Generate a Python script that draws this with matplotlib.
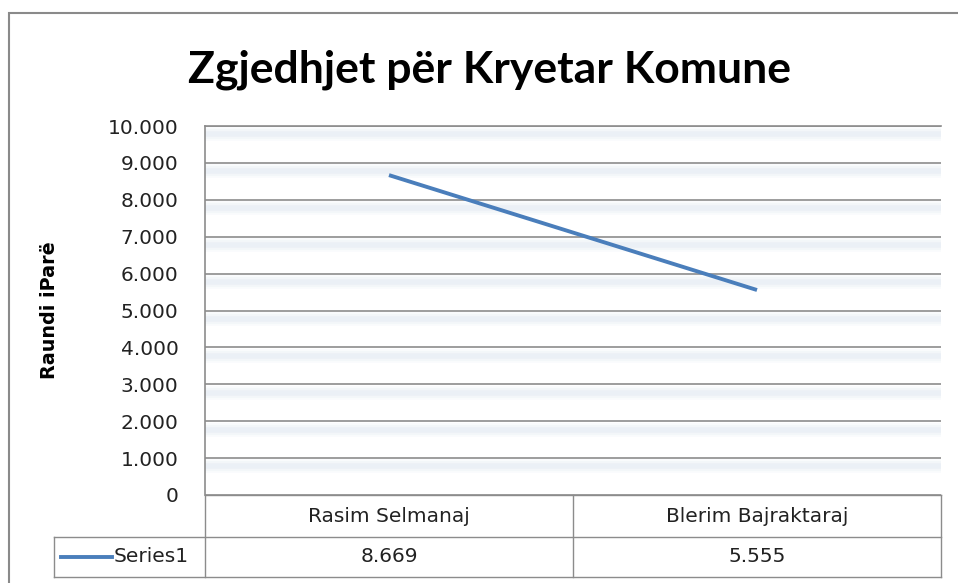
import numpy as np
import matplotlib.pyplot as plt
import matplotlib.ticker as ticker
import matplotlib.patheffects as pe
from matplotlib.patches import Rectangle

# ── data ───────────────────────────────────────────────────────────────────────
candidates = ["Rasim Selmanaj", "Blerim Bajraktaraj"]
votes = [8669, 5555]
series_name = "Series1"
title = "Zgjedhjet për Kryetar Komune"
ylabel = "Raundi iParë"
yticks = np.arange(0, 10001, 1000)

LINE = "#4a7ebb"
GRID = "#8c8c8c"
TXT = "#222222"
plt.rcParams["font.family"] = ["DejaVu Sans"]


def fmt(v, _=None):
    # thousands separator is a dot, as in the Albanian locale
    return "0" if v == 0 else f"{int(v):,}".replace(",", ".")


W, H = 958, 583
fig = plt.figure(figsize=(W / 100, H / 100), dpi=100)

# outer chart border (runs off the right/bottom edge in the original)
fig.patches.append(Rectangle((9 / W, -0.02), 1.0, 1 - 13 / H + 0.02,
                             transform=fig.transFigure, fill=False,
                             edgecolor="#8a8a8a", linewidth=1.5))

L, R, T, B = 205, 941, 126, 495
ax = fig.add_axes([L / W, 1 - B / H, (R - L) / W, (B - T) / H])

x = np.arange(len(candidates))
ax.plot(x, votes, color=LINE, linewidth=2.8, solid_capstyle="butt", zorder=5)

ax.set_xlim(-0.5, len(candidates) - 0.5)
ax.set_ylim(0, 10000)
ax.set_yticks(yticks)
ax.yaxis.set_major_formatter(ticker.FuncFormatter(fmt))
ax.set_xticks([])
ax.tick_params(axis="y", length=0, labelsize=14.5, pad=19, colors=TXT)

for s in ["right", "bottom"]:
    ax.spines[s].set_visible(False)
for s in ["left", "top"]:
    ax.spines[s].set_color(GRID)
    ax.spines[s].set_linewidth(1.2)

# gridlines with the soft bluish glow underneath
ax.grid(axis="y", color=GRID, linewidth=1.2)
soft = [pe.SimpleLineShadow(offset=(0, -6), shadow_color="#b8c9e2",
                            alpha=a, linewidth=w)
        for w, a in [(10, 0.07), (7, 0.09), (4, 0.12)]]
for gl in ax.get_ygridlines():
    gl.set_path_effects(soft + [pe.Normal()])
ax.set_axisbelow(True)

ax.set_ylabel(ylabel, fontsize=13.8, fontweight="bold", color="black")
ax.yaxis.set_label_coords(-(L - 59) / (R - L), 0.5)

fig.text(490 / W, 1 - 70 / H, title, ha="center", va="center",
         fontsize=32, fontweight="bold", family=["Lato", "DejaVu Sans"])

# ── data table under the plot ────────────────────────────────────────────────
tr = ax.get_xaxis_transform()
row1 = -(537 - B) / (B - T)
row2 = -(577 - B) / (B - T)
left_x = -0.5 - (L - 54) / (R - L) * len(candidates)
kw = dict(color=GRID, linewidth=1.0, transform=tr, clip_on=False)

ax.plot([-0.5, len(candidates) - 0.5], [0, 0], **kw)
ax.plot([left_x, len(candidates) - 0.5], [row1, row1], **kw)
ax.plot([left_x, len(candidates) - 0.5], [row2, row2], **kw)
ax.plot([left_x, left_x], [row1, row2], **kw)
ax.plot([-0.5, -0.5], [0, row2], **kw)
for i in range(len(candidates)):
    ax.plot([i + 0.5, i + 0.5], [0, row2], **kw)

for i, (name, v) in enumerate(zip(candidates, votes)):
    ax.text(i, row1 / 2, name, transform=tr, ha="center", va="center",
            fontsize=14.5, color=TXT)
    ax.text(i, (row1 + row2) / 2, fmt(v), transform=tr, ha="center",
            va="center", fontsize=14.5, color=TXT)

# legend key inside the first cell
ax.plot([left_x + 0.02, left_x + 0.158], [(row1 + row2) / 2] * 2,
        color=LINE, linewidth=2.8, transform=tr, clip_on=False)
ax.text(left_x + 0.163, (row1 + row2) / 2, series_name, transform=tr,
        ha="left", va="center", fontsize=14.5, color=TXT)

fig.savefig("out.png", dpi=100)
